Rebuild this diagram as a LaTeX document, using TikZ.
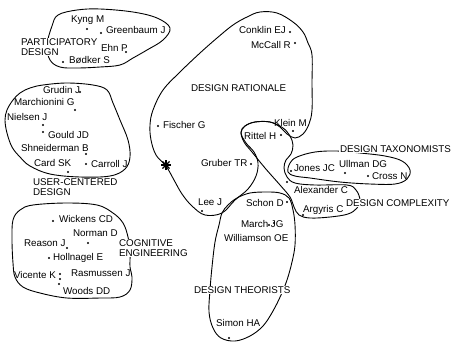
\documentclass[tikz,border=0pt]{standalone}
\usepackage{fontspec}
\setmainfont{Liberation Sans}
\begin{document}
\begin{tikzpicture}[x=0.5pt,y=-0.5pt,line join=round,line width=0.45pt,
		lbl/.style={inner sep=0.3pt,anchor=west,font=\fontsize{4.9}{5}\selectfont},
		grp/.style={lbl,fill=white,align=left},
		dot/.style={circle,fill,inner sep=0pt,minimum size=1.2pt}]
	\useasboundingbox (0,0) rectangle (453,343);
	% clusters
	\draw plot[smooth cycle,tension=0.6] coordinates {(58,15)(77,10)(100,9)(133,12)(157,18)(170,28)(163,40)(147,50)(133,58)(120,65)(100,67)(77,68)(60,67)(50,60)(47,45)(52,26)};
	\draw plot[smooth cycle,tension=0.6] coordinates {(30,88)(43,85)(67,83)(93,85)(107,90)(113,103)(120,120)(128,140)(130,157)(125,169)(110,176)(80,177)(50,174)(30,166)(20,157)(12,147)(7,133)(5,120)(7,110)(13,100)(20,93)};
	\draw plot[smooth cycle,tension=0.6] coordinates {(20,210)(33,205)(67,203)(97,205)(113,213)(123,223)(128,237)(130,253)(130,267)(132,277)(130,290)(120,297)(100,298)(67,298)(40,293)(23,287)(15,277)(13,263)(12,240)(13,220)};
	\draw plot[smooth cycle,tension=0.6] coordinates {(260,12)(277,13)(293,22)(303,32)(308,43)(312,55)(312,83)(312,110)(309,124)(303,134)(295,138)(287,134)(280,127)(270,122)(255,122)(245,126)(241,133)(246,143)(254,152)(258,163)(256,176)(248,189)(235,200)(222,213)(205,215)(192,206)(182,194)(174,180)(166,166)(156,155)(151,140)(150,125)(153,110)(163,90)(180,72)(200,53)(217,38)(233,25)(247,17)};
	\draw plot[smooth cycle,tension=0.6] coordinates {(241,132)(245,126)(255,122)(270,122)(283,128)(290,136)(293,145)(291,154)(286,160)(284,168)(287,177)(295,183)(315,185)(347,185)(356,190)(360,200)(357,208)(348,214)(330,217)(310,218)(299,215)(294,207)(290,197)(280,185)(265,168)(252,152)(244,142)};
	\draw plot[smooth cycle,tension=0.6] coordinates {(288,172)(290,163)(297,157)(315,152)(337,151)(360,153)(385,156)(402,161)(410,170)(407,179)(395,184)(370,184)(340,182)(310,178)(295,176)};
	\draw plot[smooth cycle,tension=0.6] coordinates {(222,213)(228,205)(237,198)(250,193)(267,192)(280,193)(289,198)(293,210)(295,225)(295,245)(292,262)(287,280)(281,295)(273,311)(263,326)(250,336)(235,341)(221,338)(213,328)(209,312)(210,290)(212,267)(215,242)(219,225)};
	% cluster names
	\node[grp] (pd) at (20,47) {PARTICIPATORY\\DESIGN};
	\node[grp] (ucd) at (32,187) {USER-CENTERED\\DESIGN};
	\node[grp] (ce) at (118,248) {COGNITIVE\\ENGINEERING};
	\node[grp] (dr) at (190,88) {DESIGN RATIONALE};
	\node[grp] (dtx) at (339,149) {DESIGN TAXONOMISTS};
	\node[grp] (dc) at (345,203) {DESIGN COMPLEXITY};
	\node[grp] (dth) at (193,290) {DESIGN THEORISTS};
	% authors
	\foreach \n/\t/\x/\y/\u/\v in {kyng/Kyng M/70/20/87/29,greenbaum/Greenbaum J/105/30/101/33,ehn/Ehn P/100/48/126/52,bodker/Bødker S/68/60/63/62,
		grudin/Grudin J/42/90/80/92,marchionini/Marchionini G/13/102/75/110,nielsen/Nielsen J/6/117/43/125,gould/Gould JD/47/135/43/132,shneiderman/Shneiderman B/20/148/86/154,card/Card SK/33/163/68/172,carroll/Carroll J/90/164/86/164,
		wickens/Wickens CD/58/219/53/221,norman/Norman D/72/233/88/243,reason/Reason J/23/243/67/248,hollnagel/Hollnagel E/52/258/49/258,vicente/Vicente K/13/275/60/274,rasmussen/Rasmussen J/70/273/60/279,woods/Woods DD/62/291/59/284,
		conklin/Conklin EJ/238/30/290/32,mccall/McCall R/250/45/295/43,fischer/Fischer G/162/125/158/126,klein/Klein M/273/123/293/131,rittel/Rittel H/243/136/281/135,gruber/Gruber TR/200/163/251/164,lee/Lee J/197/202/202/211,
		jones/Jones JC/293/168/291/171,ullman/Ullman DG/338/164/345/173,cross/Cross N/371/176/368/176,alexander/Alexander C/293/190/287/182,argyris/Argyris C/302/210/303/215,
		schon/Schon D/245/203/287/202,march/March JG/240/224/274/223,williamson/Williamson OE/223/238/269/225,simon/Simon HA/215/323/229/338}
		{\node[lbl] (\n) at (\x,\y) {\t};
		\node[dot] (d\n) at (\u,\v) {};}
	\coordinate (star) at (166,165);
	\foreach \a in {0,45,90,135}\draw[line width=0.6pt] (star) ++(\a:5) -- ++(\a+180:10);
\end{tikzpicture}
\end{document}
